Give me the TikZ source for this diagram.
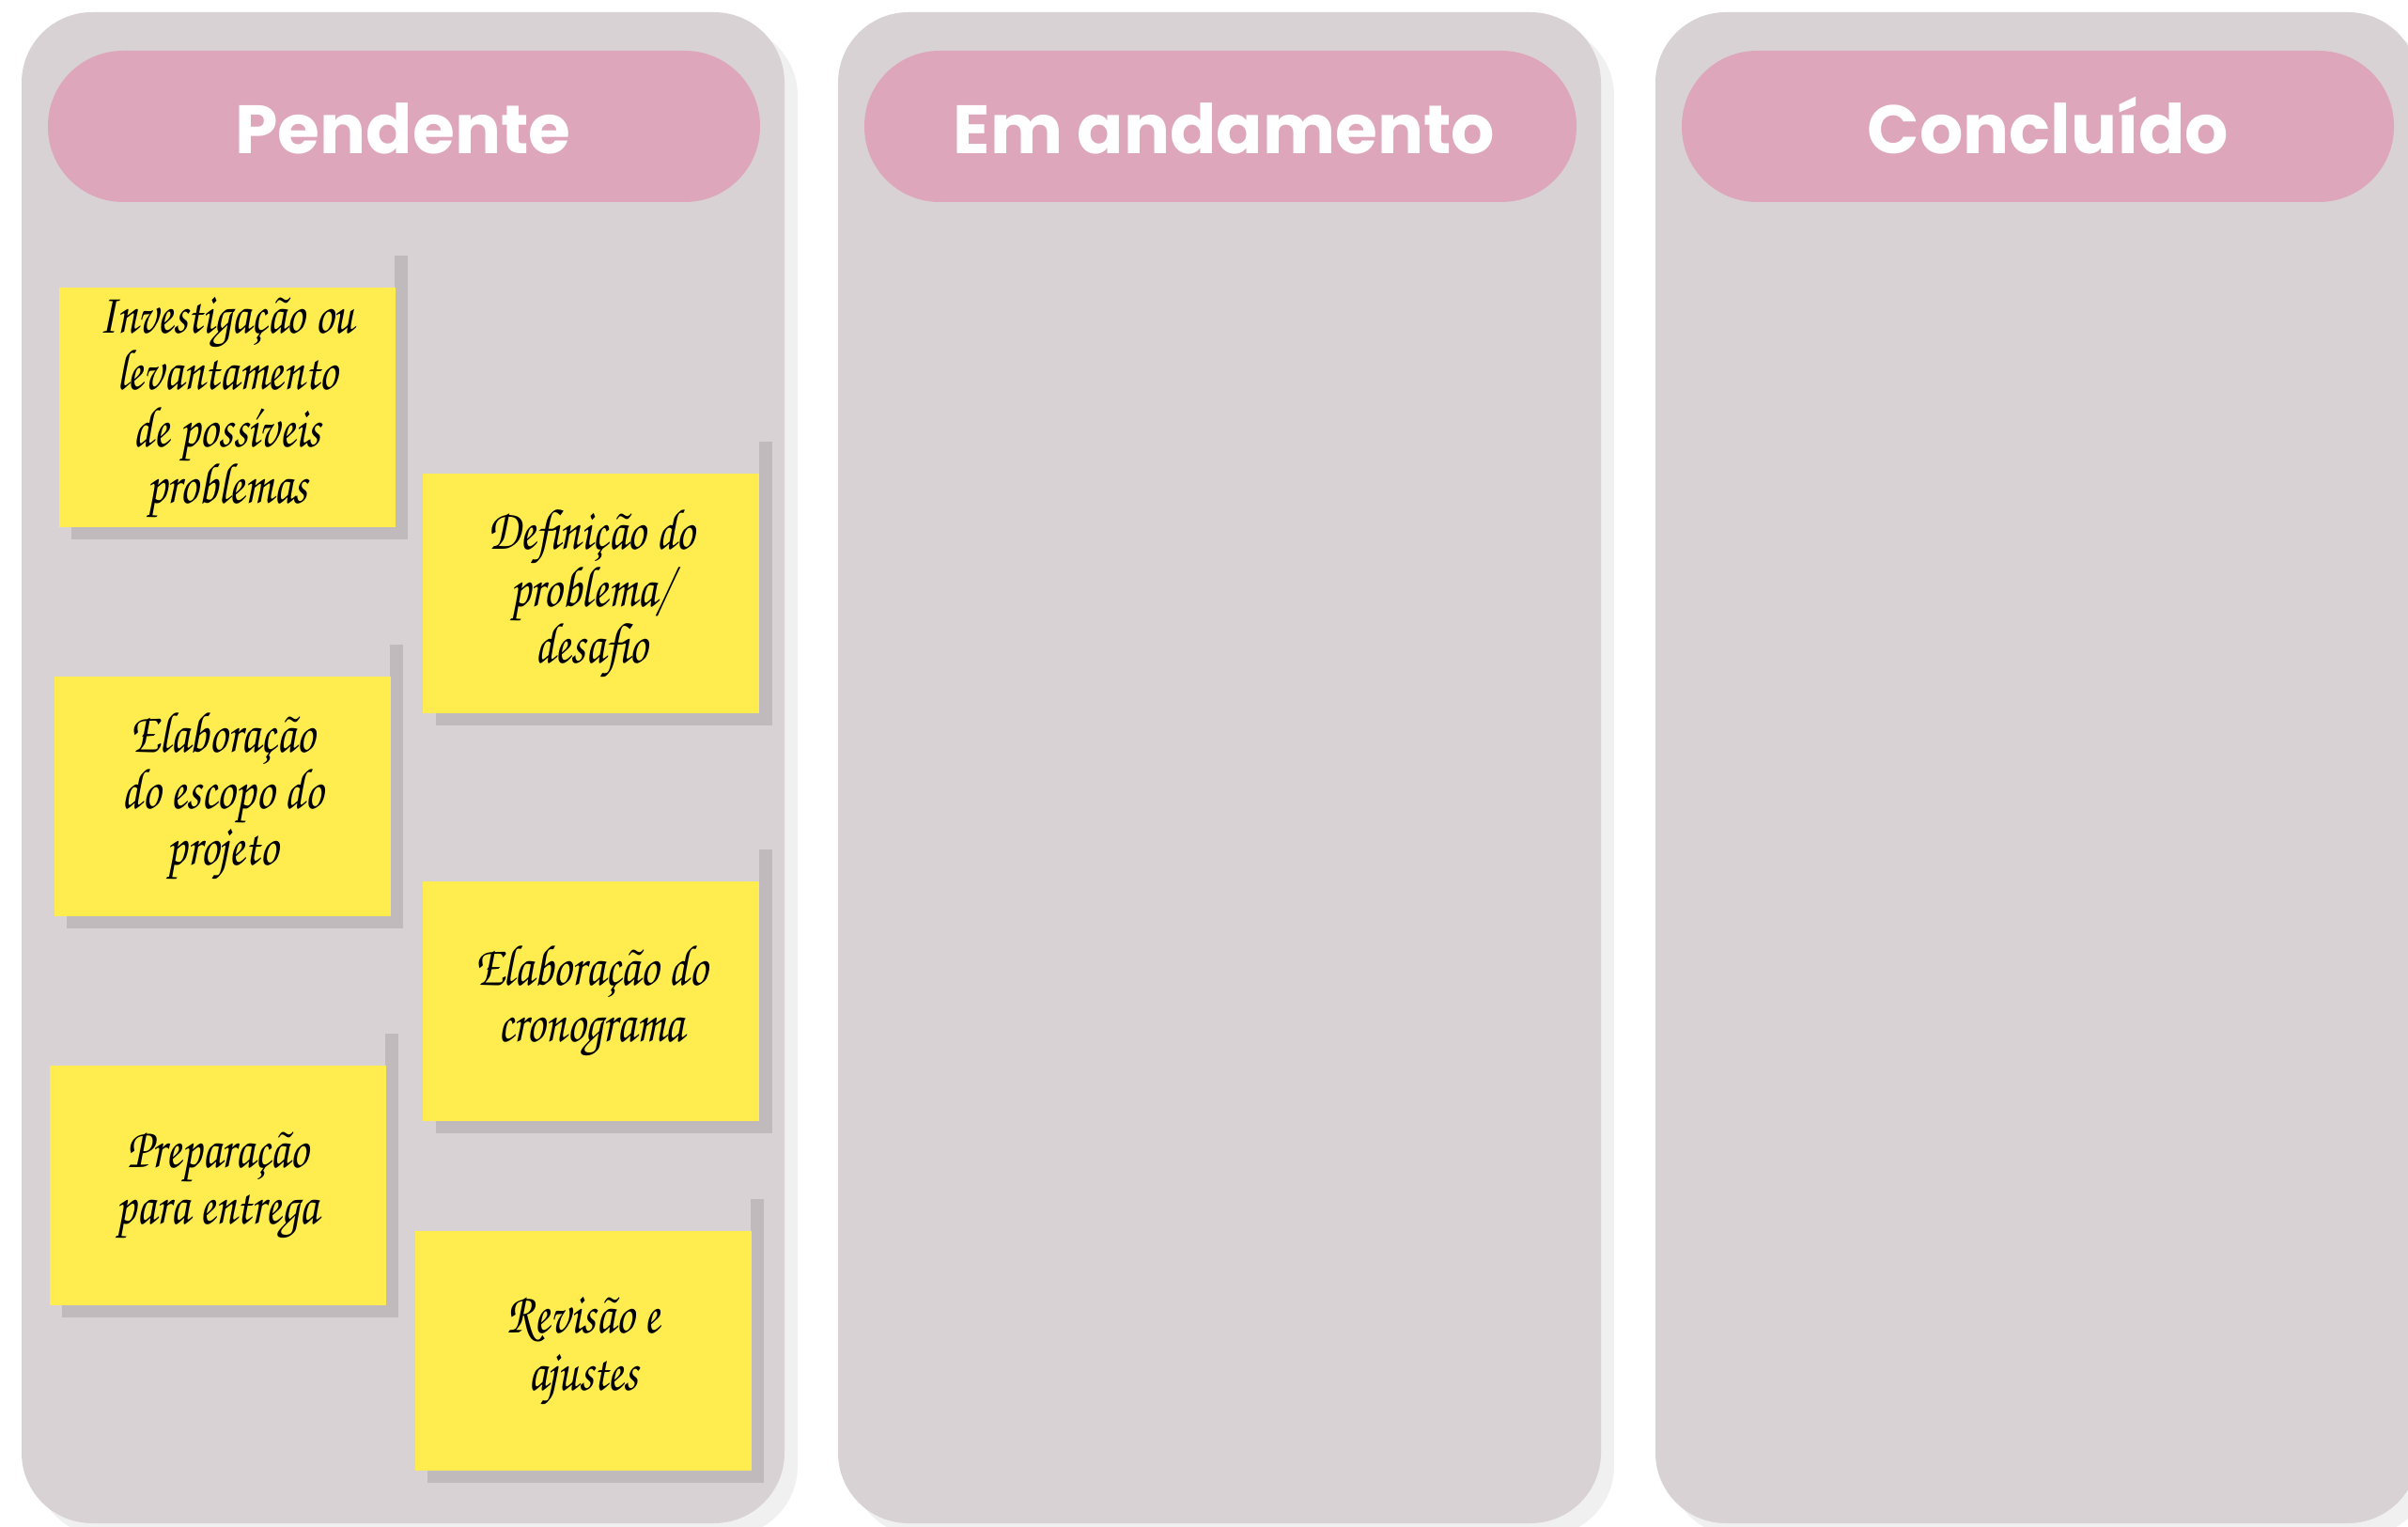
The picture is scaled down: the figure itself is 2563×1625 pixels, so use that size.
\documentclass[tikz,border=0pt]{standalone}
\usepackage{fontspec}
\newfontfamily\hdrfont{Poppins}
\newfontfamily\notefont{TeX Gyre Chorus}[FakeStretch=0.8]
\definecolor{colbg}{HTML}{D8D2D5}
\definecolor{colsh}{HTML}{F0F0F0}
\definecolor{hdrpink}{HTML}{DEA6BA}
\definecolor{noteyel}{HTML}{FFED50}
\definecolor{noteshd}{HTML}{C0BABC}
\tikzset{
  column/.style={fill=colbg, rounded corners=0.75cm},
  colshadow/.style={fill=colsh, rounded corners=0.75cm},
  header/.style={fill=hdrpink, rounded corners=0.8cm},
  hdrtext/.style={text=white, font=\hdrfont\bfseries\fontsize{20.7}{25}\selectfont, inner sep=0pt, anchor=base},
  notebox/.style={fill=noteyel, minimum width=3.58cm, minimum height=2.55cm, inner sep=0pt,
    align=center, text=black, font=\notefont\fontsize{17.5}{17.2}\selectfont},
  noteshadow/.style={fill=noteshd}
}
\newcommand{\stickynote}[4]{%
  \fill[noteshadow] (#2+358,#3-33) rectangle (#2+372,#3+269);
  \fill[noteshadow] (#2+14,#3+255) rectangle (#2+372,#3+269);
  \node[notebox, anchor=north west] (#1) at (#2,#3) {#4};}
\begin{document}
\begin{tikzpicture}[x=0.01cm, y=-0.01cm]
\useasboundingbox (0,0) rectangle (2563,1625);
\fill[white] (0,0) rectangle (2563,1625);
% column shadows
\foreach \cx in {23,892,1762} {
  \fill[colshadow] (\cx+14,27) rectangle (\cx+826,1635);
}
% columns
\foreach \cx in {23,892,1762} {
  \fill[column] (\cx,13) rectangle (\cx+812,1621);
  \fill[header] (\cx+28,54) rectangle (\cx+786,215);
}
\node[hdrtext] (h1) at (429,164) {Pendente};
\node[hdrtext] (h2) at (1303,164) {Em andamento};
\node[hdrtext] (h3) at (2180,164) {Concluído};
% sticky notes
\stickynote{n1}{62}{305}{Investigação ou\\levantamento\\de possíveis\\problemas}
\stickynote{n2}{449.5}{503.5}{Definição do\\problema/\\desafio}
\stickynote{n3}{57}{719}{Elaboração\\do escopo do\\projeto}
\stickynote{n4}{449.5}{937}{Elaboração do\\cronograma}
\stickynote{n5}{52}{1133}{Preparação\\para entrega}
\stickynote{n6}{441}{1309}{Revisão e\\ajustes}
\end{tikzpicture}
\end{document}
